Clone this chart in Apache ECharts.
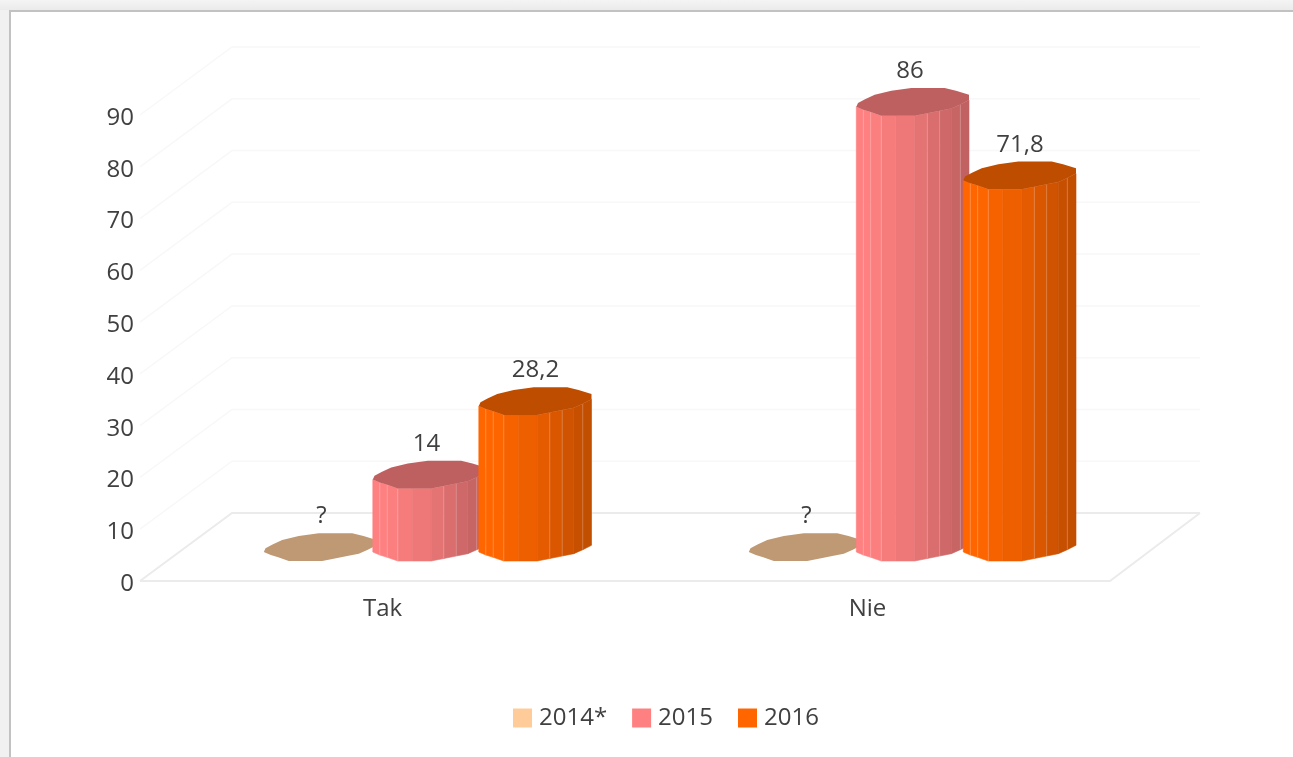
<!DOCTYPE html>
<html>
<head>
<meta charset="utf-8">
<style>
html,body{margin:0;padding:0;width:1293px;height:757px;overflow:hidden;background:#f1f1f1}
#panel{position:absolute;left:9px;top:10px;width:1290px;height:760px;background:#fff;border-left:2px solid #c2c2c2;border-top:2px solid #c2c2c2}
#top{position:absolute;left:0;top:0;width:1293px;height:10px;background:linear-gradient(#f4f4f4,#ebebeb)}
#chart{position:absolute;left:0;top:0;width:1293px;height:757px}
</style>
</head>
<body>
<div id="top"></div>
<div id="panel"></div>
<div id="chart"></div>
<script src="https://cdn.jsdelivr.net/npm/echarts@6/dist/echarts.min.js"></script>
<script>
const categories = ['Tak', 'Nie'];
const yTicks = [0, 10, 20, 30, 40, 50, 60, 70, 80, 90];
const names = ['2014*', '2015', '2016'];
const values2014 = [0, 0];
const values2015 = [14, 86];
const values2016 = [28.2, 71.8];
const labels2014 = ['?', '?'];
const labels2015 = ['14', '86'];
const labels2016 = ['28,2', '71,8'];
const colors = ['#ffcc99', '#ff8080', '#ff6600'];

const TEXT = '#404040', FONT = '"Open Sans", "Noto Sans", sans-serif';
const WALL_DX = 92, WALL_DY = -68;           // oblique depth of the plot box
const BAR_LIFT = -34.5;                      // bars stand mid-depth on the floor
const SERIES_DX = [[-62, 47, 153], [-62, 45.5, 152.5]]; // bar centres from category centre
const LABEL_DX = [1, -3, 0];

// outline of the faceted column cross-section, relative to its centre
const BACK = [[-55,1.8],[-48,-2],[-38.3,-6.5],[-21.7,-10.5],[-1.7,-13.2],[31.7,-13.2],[43,-10.5],[56,-6.5]];
const FRONT = [[-56.7,5.5],[-49.7,8.5],[-42.3,10.8],[-31.7,14.5],[-17.3,14.5],[1.7,14.5],[14.3,12],[26.7,9.5],[38.3,7.2],[47.3,3.2],[56,-1.2]];
const SHADES = [1, 1, 0.99, 0.965, 0.935, 0.895, 0.855, 0.81, 0.78, 0.76];
const SEAMS = [1, 2, 3, 6, 7, 9];

function shade(hex, f) {
  const n = parseInt(hex.slice(1), 16);
  const c = [n >> 16, (n >> 8) & 255, n & 255].map(v => Math.round(v * f));
  return 'rgb(' + c.join(',') + ')';
}

function wallRender(params, api) {
  const v = api.value(1);
  const p = api.coord([0, v]);
  const cs = params.coordSys;
  const bx = cs.x + WALL_DX, by = p[1] + WALL_DY, rx = cs.x + cs.width + WALL_DX - 2;
  const floor = v === 0;
  const style = { stroke: floor ? '#ebebeb' : '#f8f8f8', lineWidth: floor ? 2 : 1.5, fill: null };
  const children = [{ type: 'polyline', shape: { points: [[cs.x, p[1]], [bx, by], [rx, by]] }, style }];
  if (floor) {
    children.push({ type: 'polyline', shape: { points: [[cs.x, p[1]], [cs.x + cs.width, p[1]], [rx, by]] }, style });
  }
  return { type: 'group', children };
}

function barRender(sIndex, labels) {
  return function (params, api) {
    const cat = api.value(0), val = api.value(1);
    const top = api.coord([cat, val]), base = api.coord([cat, 0]);
    const cx = top[0] + SERIES_DX[cat][sIndex];
    const ty = top[1] + BAR_LIFT, h = base[1] - top[1];
    const col = colors[sIndex];
    const children = [];
    if (h > 0) {
      for (let i = 0; i < FRONT.length - 1; i++) {
        const a = FRONT[i], b = FRONT[i + 1], c = shade(col, SHADES[i]);
        children.push({ type: 'polygon', shape: { points: [
          [cx + a[0], ty + a[1]], [cx + b[0], ty + b[1]], [cx + b[0], ty + b[1] + h], [cx + a[0], ty + a[1] + h]
        ] }, style: { fill: c, stroke: c, lineWidth: 0.6 } });
      }
      SEAMS.forEach(i => {
        const a = FRONT[i];
        children.push({ type: 'line', shape: { x1: cx + a[0], y1: ty + a[1], x2: cx + a[0], y2: ty + a[1] + h },
          style: { stroke: 'rgba(255,255,255,0.22)', lineWidth: 1 } });
      });
    }
    const outline = BACK.concat(FRONT.slice().reverse()).map(q => [cx + q[0], ty + q[1]]);
    children.push({ type: 'polygon', shape: { points: outline }, style: { fill: shade(col, 0.75) } });
    children.push({ type: 'text', style: { text: labels[cat], x: cx + LABEL_DX[sIndex], y: ty - 30, align: 'center', verticalAlign: 'middle',
      fill: TEXT, font: '24px ' + FONT } });
    return { type: 'group', children };
  };
}

const seriesValues = [values2014, values2015, values2016];
const seriesLabels = [labels2014, labels2015, labels2016];

const chart = echarts.init(document.getElementById('chart'));
chart.setOption({
  animation: false,
  backgroundColor: 'transparent',
  grid: { left: 140, right: 183, top: 115, bottom: 176 },
  legend: {
    left: 508, top: 701, itemWidth: 19, itemHeight: 19, itemGap: 25, icon: 'rect',
    data: names, selectedMode: false,
    textStyle: { color: TEXT, fontFamily: FONT, fontSize: 24, padding: [0, 0, 0, 2] }
  },
  xAxis: {
    type: 'category', data: categories,
    axisLine: { show: false }, axisTick: { show: false }, splitLine: { show: false },
    axisLabel: { color: TEXT, fontFamily: FONT, fontSize: 24, margin: 16 }
  },
  yAxis: {
    type: 'value', min: 0, max: 90, interval: 10,
    axisLine: { show: false }, axisTick: { show: false }, splitLine: { show: false },
    axisLabel: { color: TEXT, fontFamily: FONT, fontSize: 24, margin: 6, verticalAlign: 'top', lineHeight: 6 }
  },
  series: [{
    type: 'custom', silent: true, z: 1, renderItem: wallRender,
    data: yTicks.map(t => [0, t]), encode: { x: 0, y: 1 }
  }].concat(names.map((n, s) => ({
    type: 'custom', name: n, z: 2 + s, silent: true,
    itemStyle: { color: colors[s] },
    renderItem: barRender(s, seriesLabels[s]),
    data: categories.map((c, i) => [i, seriesValues[s][i]]),
    encode: { x: 0, y: 1 }
  })))
});
</script>
</body>
</html>
